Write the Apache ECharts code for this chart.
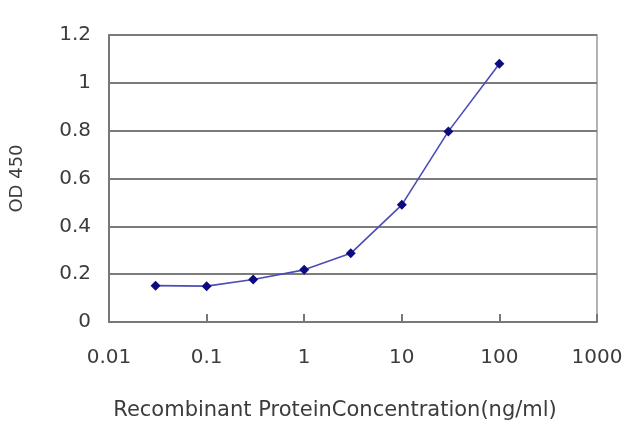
<!DOCTYPE html>
<html>
<head>
<meta charset="utf-8">
<script src="https://cdn.jsdelivr.net/npm/echarts@6/dist/echarts.min.js"></script>
<style>
html,body{margin:0;padding:0;background:#fff;}
#chart{width:640px;height:427px;}
</style>
</head>
<body>
<div id="chart"></div>
<script>
const concentrations = [0.03, 0.1, 0.3, 1, 3, 10, 30, 100];
const od450 = [0.152, 0.15, 0.178, 0.218, 0.287, 0.49, 0.797, 1.08];
const xTickLabels = ['0.01', '0.1', '1', '10', '100', '1000'];
const yTickLabels = ['0', '0.2', '0.4', '0.6', '0.8', '1', '1.2'];
const xTitle = 'Recombinant ProteinConcentration(ng/ml)';
const yTitle = 'OD 450';

const chart = echarts.init(document.getElementById('chart'), null, {renderer: 'canvas'});
const font = 'DejaVu Sans';
const textColor = '#3c3c3c';

chart.setOption({
  animation: false,
  backgroundColor: '#ffffff',
  grid: {
    left: 109, right: 43, top: 35, bottom: 105,
    show: true, borderColor: '#9a9a9a', borderWidth: 1.5, containLabel: false
  },
  xAxis: {
    type: 'log',
    logBase: 10,
    min: 0.01,
    max: 1000,
    axisLine: {show: true, lineStyle: {color: '#777', width: 2}},
    axisTick: {show: true, inside: true, length: 8, lineStyle: {color: '#777', width: 2}},
    minorTick: {show: false},
    splitLine: {show: false},
    axisLabel: {
      margin: 26,
      fontFamily: font, fontSize: 20, color: textColor,
      formatter: function (v) {
        const i = Math.round(Math.log10(v)) + 2;
        return xTickLabels[i] !== undefined ? xTickLabels[i] : '';
      }
    },
    name: xTitle,
    nameLocation: 'middle',
    nameGap: 78,
    nameTextStyle: {fontFamily: font, fontSize: 21, color: textColor, padding: [0, 36, 0, 0]}
  },
  yAxis: {
    type: 'value',
    min: 0,
    max: 1.2,
    interval: 0.2,
    axisLine: {show: true, lineStyle: {color: '#777', width: 2}},
    axisTick: {show: false},
    splitLine: {show: true, lineStyle: {color: '#7c7c7c', width: 2}},
    axisLabel: {
      margin: 18,
      fontFamily: font, fontSize: 20, color: textColor,
      formatter: function (v) {
        const i = Math.round(v / 0.2);
        return yTickLabels[i] !== undefined ? yTickLabels[i] : '';
      }
    },
    name: yTitle,
    nameLocation: 'middle',
    nameGap: 83,
    nameRotate: 90,
    nameTextStyle: {fontFamily: font, fontSize: 18, color: textColor}
  },
  series: [{
    type: 'line',
    data: concentrations.map((c, i) => [c, od450[i]]),
    symbol: 'diamond',
    symbolSize: 10,
    lineStyle: {color: '#4c4cb8', width: 1.6},
    itemStyle: {color: '#0c0c80'},
    smooth: false
  }]
});
</script>
</body>
</html>
